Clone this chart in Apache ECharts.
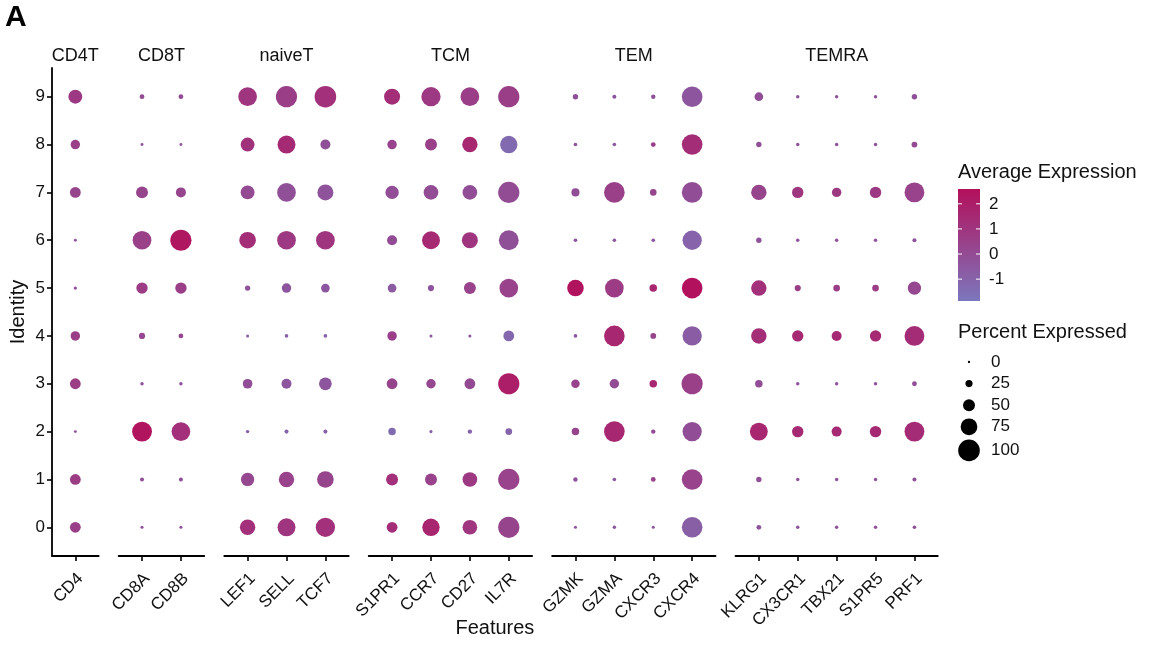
<!DOCTYPE html>
<html><head><meta charset="utf-8">
<script src="https://cdn.jsdelivr.net/npm/echarts@6/dist/echarts.min.js"></script>
<style>html,body{margin:0;padding:0;background:#fff}#c{width:1150px;height:651px}</style>
</head><body><div id="c"></div>
<script>
// ---------------- DATA ----------------
const identities = ['0','1','2','3','4','5','6','7','8','9'];
const groups = ['CD4T','CD8T','naiveT','TCM','TEM','TEMRA'];
const genes_CD4T   = ['CD4'];
const genes_CD8T   = ['CD8A','CD8B'];
const genes_naiveT = ['LEF1','SELL','TCF7'];
const genes_TCM    = ['S1PR1','CCR7','CD27','IL7R'];
const genes_TEM    = ['GZMK','GZMA','CXCR3','CXCR4'];
const genes_TEMRA  = ['KLRG1','CX3CR1','TBX21','S1PR5','PRF1'];

// percent expressed, one array per gene, identity 0 -> 9
const pct_CD4T = [
  [44,44,3,44,37,5,3,44,37,60]
];
const pct_CD8T = [
  [4,9,91,6,20,47,85,50,3,13],
  [4,9,85,6,13,47,98,40,3,13]
];
const pct_naiveT = [
  [68,57,6,38,4,16,74,60,60,85],
  [81,68,9,40,7,37,85,85,81,98],
  [88,74,9,54,7,33,85,71,40,100]
];
const pct_TCM = [
  [44,50,27,44,37,33,40,57,37,71],
  [78,50,4,37,4,20,81,64,50,88],
  [64,64,11,44,4,50,71,64,68,85],
  [98,98,23,98,44,85,91,98,78,98]
];
const pct_TEM = [
  [4,11,27,32,7,74,7,30,7,16],
  [6,7,95,37,95,85,7,95,7,9],
  [4,13,11,27,18,27,7,22,13,11],
  [95,95,88,98,88,95,88,95,95,95]
];
const pct_TEMRA = [
  [13,16,81,27,68,68,16,68,16,33],
  [6,6,47,6,47,20,6,47,6,6],
  [6,6,40,6,40,23,6,37,6,6],
  [6,6,47,6,47,23,6,47,6,6],
  [7,9,91,13,91,57,9,91,18,16]
];

// average expression (scaled), one array per gene, identity 0 -> 9
const avg_CD4T = [
  [0.6,0.7,-0.3,0.7,0.6,-0.3,-0.3,0.3,0.5,0.8]
];
const avg_CD8T = [
  [-0.3,-0.2,2.4,-0.3,0.2,0.7,0.5,0.3,-0.3,0.0],
  [-0.3,-0.2,1.2,-0.3,0.2,0.6,2.3,0.3,-0.3,0.0]
];
const avg_naiveT = [
  [1.2,0.2,-0.8,-0.1,-0.8,-0.3,1.3,0.1,1.1,1.0],
  [1.0,0.4,-1.0,-0.4,-0.9,-0.4,0.8,-0.2,1.5,0.6],
  [1.2,0.3,-0.9,-0.4,-0.9,-0.5,1.0,-0.3,-0.2,1.2]
];
const avg_TCM = [
  [1.3,1.2,-1.3,0.3,0.6,-0.6,0.0,-0.1,0.4,1.3],
  [1.7,0.4,-0.8,0.2,-0.5,-0.4,1.5,0.0,0.5,0.8],
  [0.9,0.8,-1.0,0.1,-0.4,0.4,1.0,-0.1,1.6,0.6],
  [0.3,0.4,-1.0,2.0,-1.2,0.4,-0.2,0.0,-1.3,0.6]
];
const avg_TEM = [
  [-0.4,-0.3,0.3,0.4,-0.4,2.4,-0.4,-0.1,-0.3,-0.2],
  [-0.5,-0.5,1.6,0.0,1.6,0.7,-0.5,0.5,-0.5,-0.4],
  [-0.4,0.4,0.0,1.6,0.3,1.7,-0.4,0.3,0.5,-0.3],
  [-0.8,0.4,-0.1,0.5,-0.7,2.5,-1.0,-0.1,1.3,-0.4]
];
const avg_TEMRA = [
  [-0.3,-0.2,1.6,-0.1,1.3,1.2,-0.3,0.3,-0.2,-0.1],
  [-0.3,-0.3,1.5,-0.3,1.5,0.6,-0.3,0.9,-0.3,-0.3],
  [-0.3,-0.3,1.5,-0.3,1.5,0.6,-0.3,0.8,-0.3,-0.3],
  [-0.3,-0.3,1.5,-0.3,1.5,0.6,-0.3,0.8,-0.3,-0.3],
  [-0.2,-0.2,1.4,-0.1,1.4,0.2,-0.3,0.4,0.1,-0.2]
];

const colorTicks = [2,1,0,-1];
const sizeBreaks = [0,25,50,75,100];

// ---------------- LAYOUT / STYLE ----------------
const genesByGroup = [genes_CD4T,genes_CD8T,genes_naiveT,genes_TCM,genes_TEM,genes_TEMRA];
const pctByGroup = [pct_CD4T,pct_CD8T,pct_naiveT,pct_TCM,pct_TEM,pct_TEMRA];
const avgByGroup = [avg_CD4T,avg_CD8T,avg_naiveT,avg_TCM,avg_TEM,avg_TEMRA];

const FONT = '"Liberation Sans", Arial, Helvetica, sans-serif';
const TXT = '#111';
const unit = 38.9, gap = 20, left0 = 52, top0 = 68, plotH = 488;
const pad = 0.6;
const labelShift = 0.13;   // rotated labels sit slightly right of their tick (ggplot hjust=1, vjust=1)
const expMin = -1.87, expMax = 2.59;
const lowCol = '#7B77BD', highCol = '#B3105B';
const sizeOf = p => 2.3 + 0.193 * p;

const grids = [], xAxes = [], yAxes = [], series = [], graphics = [];
let cur = left0;
groups.forEach((g, i) => {
  const genes = genesByGroup[i];
  const n = genes.length;
  const w = (n - 1 + 2 * pad) * unit;
  grids.push({left: cur, top: top0, width: w, height: plotH});
  const idx = genes.map((_, k) => k);
  xAxes.push({
    type: 'value', gridIndex: i, min: -pad, max: n - 1 + pad,
    splitLine: {show: false},
    axisLine: {show: true, onZero: false, lineStyle: {color: '#000', width: 1.8}},
    axisTick: {show: true, customValues: idx, length: 5, lineStyle: {color: '#000', width: 1.6}},
    axisLabel: {customValues: idx.map(k => k + labelShift), formatter: v => genes[Math.round(v)], rotate: 45,
      fontSize: 17, color: TXT, fontFamily: FONT, margin: 20}
  });
  const rows = identities.map((_, k) => k);
  yAxes.push({
    type: 'value', gridIndex: i, min: -pad, max: identities.length - 1 + pad,
    show: i === 0,
    splitLine: {show: false},
    axisLine: {show: true, onZero: false, lineStyle: {color: '#000', width: 1.8}},
    axisTick: {show: true, customValues: rows, length: 5, lineStyle: {color: '#000', width: 1.6}},
    axisLabel: {customValues: rows, formatter: v => identities[Math.round(v)],
      fontSize: 17, color: TXT, fontFamily: FONT, margin: 7}
  });
  const data = [];
  genes.forEach((gn, j) => {
    identities.forEach((id, r) => {
      data.push([j, r, pctByGroup[i][j][r], avgByGroup[i][j][r]]);
    });
  });
  series.push({
    type: 'scatter', xAxisIndex: i, yAxisIndex: i, data,
    symbol: 'circle', symbolSize: d => sizeOf(d[2]),
    itemStyle: {opacity: 1}, emphasis: {disabled: true}, silent: true
  });
  graphics.push({type: 'text', x: cur + w / 2, y: 56,
    style: {text: g, fontSize: 18, fontFamily: FONT, fill: TXT, align: 'center', verticalAlign: 'middle'}});
  cur += w + gap;
});
const plotRight = cur - gap;

// panel tag and axis titles
graphics.push({type: 'text', x: 5, y: 18,
  style: {text: 'A', fontSize: 30, fontWeight: 'bold', fontFamily: FONT, fill: '#000', align: 'left', verticalAlign: 'middle'}});
graphics.push({type: 'text', x: (left0 + plotRight) / 2, y: 628,
  style: {text: 'Features', fontSize: 20, fontFamily: FONT, fill: TXT, align: 'center', verticalAlign: 'middle'}});
graphics.push({type: 'text', x: 18, y: top0 + plotH / 2, rotation: Math.PI / 2,
  style: {text: 'Identity', fontSize: 20, fontFamily: FONT, fill: TXT, align: 'center', verticalAlign: 'middle'}});

// colour legend
const lgX = 958;
const cbTop = 189, cbH = 112, cbW = 22;
graphics.push({type: 'text', x: lgX, y: 172,
  style: {text: 'Average Expression', fontSize: 20, fontFamily: FONT, fill: TXT, align: 'left', verticalAlign: 'middle'}});
graphics.push({type: 'rect', shape: {x: lgX, y: cbTop, width: cbW, height: cbH},
  style: {fill: new echarts.graphic.LinearGradient(0, 0, 0, 1, [{offset: 0, color: highCol}, {offset: 1, color: lowCol}])}});
colorTicks.forEach(v => {
  const y = cbTop + (expMax - v) / (expMax - expMin) * cbH;
  graphics.push({type: 'line', shape: {x1: lgX, y1: y, x2: lgX + 4, y2: y}, style: {stroke: '#fff', lineWidth: 1}});
  graphics.push({type: 'line', shape: {x1: lgX + cbW - 4, y1: y, x2: lgX + cbW, y2: y}, style: {stroke: '#fff', lineWidth: 1}});
  graphics.push({type: 'text', x: lgX + cbW + 9, y: y,
    style: {text: String(v), fontSize: 17, fontFamily: FONT, fill: TXT, align: 'left', verticalAlign: 'middle'}});
});

// size legend
graphics.push({type: 'text', x: lgX, y: 332,
  style: {text: 'Percent Expressed', fontSize: 20, fontFamily: FONT, fill: TXT, align: 'left', verticalAlign: 'middle'}});
let sy = 362, prevK = null;
sizeBreaks.forEach(p => {
  const d = sizeOf(p);
  const k = Math.max(21.6, d + 4);
  if (prevK !== null) sy += (prevK + k) / 2;
  graphics.push({type: 'circle', shape: {cx: lgX + 11, cy: sy, r: d / 2}, style: {fill: '#000'}});
  graphics.push({type: 'text', x: lgX + 33, y: sy,
    style: {text: String(p), fontSize: 17, fontFamily: FONT, fill: TXT, align: 'left', verticalAlign: 'middle'}});
  prevK = k;
});

const chart = echarts.init(document.getElementById('c'), null, {renderer: 'canvas'});
chart.setOption({
  animation: false,
  backgroundColor: '#fff',
  grid: grids, xAxis: xAxes, yAxis: yAxes, series,
  visualMap: {type: 'continuous', show: false, dimension: 3, min: expMin, max: expMax,
    seriesIndex: series.map((_, i) => i), inRange: {color: [lowCol, highCol]}},
  graphic: graphics
});
</script></body></html>
